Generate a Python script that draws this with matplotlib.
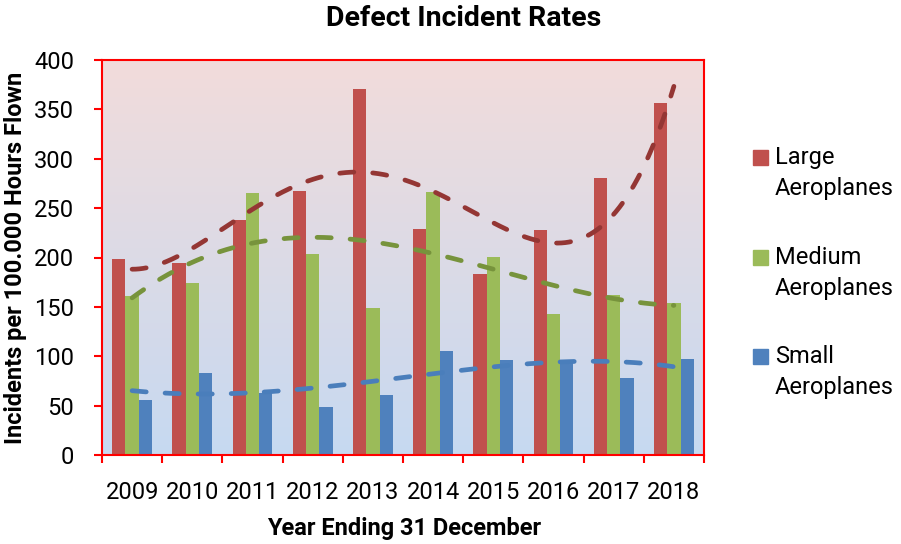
import numpy as np
import matplotlib
matplotlib.use("Agg")
import matplotlib.pyplot as plt
from matplotlib.patches import Rectangle
from matplotlib.colors import LinearSegmentedColormap

plt.rcParams['font.family'] = ['Roboto', 'DejaVu Sans']

years = ['2009', '2010', '2011', '2012', '2013', '2014', '2015', '2016', '2017', '2018']
large = [198, 194, 238, 267, 371, 229, 183, 228, 281, 356]
medium = [161, 174, 265, 204, 149, 266, 201, 143, 162, 154]
small = [56, 83, 63, 49, 61, 105, 96, 94, 78, 97]
series_names = ['Large\nAeroplanes', 'Medium\nAeroplanes', 'Small\nAeroplanes']
title = 'Defect Incident Rates'
xlabel = 'Year Ending 31 December'
ylabel = 'Incidents per 100.000 Hours Flown'

bar_colors = ['#C0504D', '#9BBB59', '#4F81BD']
trend_colors = ['#943634', '#77933C', '#4A7EBB']
trend_orders = [4, 4, 4]

W, H = 901, 544
fig = plt.figure(figsize=(W / 100, H / 100), dpi=100)
ax = fig.add_axes([102 / W, (H - 455) / H, 602 / W, 395 / H])

# gradient background
cmap = LinearSegmentedColormap.from_list('bg', ['#C6D9F1', '#F2DCDB'])
grad = np.linspace(0, 1, 256).reshape(-1, 1)
ax.imshow(grad, extent=[-0.5, 9.5, 0, 400], origin='lower', aspect='auto',
          cmap=cmap, zorder=0)

x = np.arange(len(years))
bw = 0.221
data = [large, medium, small]
for k, (vals, c) in enumerate(zip(data, bar_colors)):
    ax.bar(x + (k - 1) * bw, vals, width=bw, color=c, zorder=2)

for vals, c, order in zip(data, trend_colors, trend_orders):
    coef = np.polyfit(x, vals, order)
    xs = np.linspace(0, 9, 300)
    ax.plot(xs, np.polyval(coef, xs), color=c, lw=3.4, ls=(0, (3.0, 4.0)),
            dash_capstyle='round', zorder=3)

ax.set_xlim(-0.5, 9.5)
ax.set_ylim(0, 400)
ax.set_yticks(np.arange(0, 401, 50))
ax.set_xticks(np.arange(-0.5, 10, 1))
ax.set_xticklabels([])
ax.set_xticks(x, minor=True)
ax.set_xticklabels(years, minor=True)
ax.tick_params(axis='x', which='major', direction='out', length=6, width=1.5, color='red')
ax.tick_params(axis='x', which='minor', length=0, pad=19, labelsize=17, labelcolor='black')
ax.tick_params(axis='y', direction='out', length=6, width=1.5, color='red', pad=14,
               labelsize=17)
for s in ax.spines.values():
    s.set_color('red')
    s.set_linewidth(1.5)

fig.text(464 / W, 1 - 19 / H, title, ha='center', va='center', fontsize=20.5,
         fontweight='bold')
fig.text(404 / W, 1 - 528 / H, xlabel, ha='center', va='center', fontsize=17,
         fontweight='bold')
fig.text(16 / W, 1 - 258 / H, ylabel, ha='center', va='center', rotation=90,
         fontsize=17, fontweight='bold')

# legend
ys = [158, 258, 357]
for name, c, yy in zip(series_names, bar_colors, ys):
    fig.add_artist(Rectangle((753 / W, 1 - (yy + 7) / H), 15 / W, 15 / H,
                             transform=fig.transFigure, color=c))
    fig.text(775 / W, 1 - (yy - 12) / H, name, ha='left', va='top', fontsize=17,
             linespacing=1.45)

fig.savefig('out.png', dpi=100)
